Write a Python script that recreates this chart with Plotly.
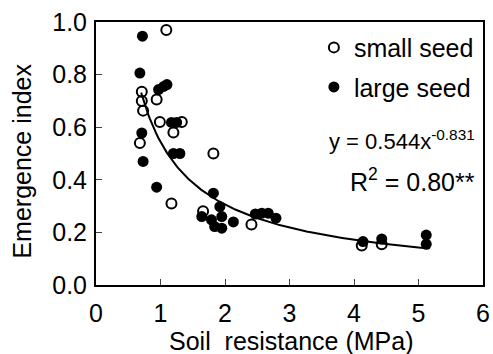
import numpy as np
import plotly.graph_objects as go

# Small seed (open circles)
small_x = [1.09, 0.71, 0.71, 0.94, 0.73, 0.99, 1.33, 1.20, 0.68, 1.17, 1.82, 1.66, 2.41, 4.12, 4.43]
small_y = [0.97, 0.735, 0.70, 0.705, 0.663, 0.62, 0.62, 0.58, 0.54, 0.31, 0.50, 0.28, 0.23, 0.15, 0.155]

# Large seed (filled circles)
large_x = [0.72, 0.68, 0.97, 1.05, 1.10, 1.17, 1.25, 0.71, 1.20, 1.30, 0.73, 0.94,
           1.82, 1.64, 1.79, 1.92, 1.95, 1.95, 2.13, 1.84, 2.47, 2.57, 2.67, 2.79,
           4.14, 4.43, 5.12, 5.12]
large_y = [0.946, 0.806, 0.743, 0.755, 0.762, 0.618, 0.618, 0.578, 0.50, 0.50, 0.47, 0.372,
           0.349, 0.26, 0.248, 0.298, 0.26, 0.216, 0.24, 0.222, 0.27, 0.273, 0.273, 0.254,
           0.165, 0.175, 0.19, 0.155]

# Power fit y = a * x^b
fit_a = 0.544
fit_b = -0.831
fit_range = [0.7, 5.1]

x_ticks = [0, 1, 2, 3, 4, 5, 6]
y_ticks = [0.0, 0.2, 0.4, 0.6, 0.8, 1.0]

x_title = "Soil  resistance (MPa)"
y_title = "Emergence index"

FONT = "Liberation Sans, Arial, sans-serif"
FS = 25

fx = np.linspace(fit_range[0], fit_range[1], 200)
fy = fit_a * fx ** fit_b

fig = go.Figure()
fig.add_trace(go.Scatter(x=fx, y=fy, mode="lines", line=dict(color="black", width=2),
                         showlegend=False, hoverinfo="skip"))
fig.add_trace(go.Scatter(x=small_x, y=small_y, mode="markers", name="small seed",
                         legendgroup="a",
                         marker=dict(symbol="circle-open", size=10, color="black",
                                     line=dict(width=2, color="black"))))
fig.add_trace(go.Scatter(x=large_x, y=large_y, mode="markers", name="large seed",
                         legendgroup="b",
                         marker=dict(symbol="circle", size=11, color="black")))

fig.update_layout(
    width=493, height=354,
    margin=dict(l=96, r=10, t=22, b=69),
    paper_bgcolor="white", plot_bgcolor="white",
    font=dict(family=FONT, size=FS, color="black"),
    showlegend=True,
    legend=dict(x=0.563, y=0.99, xanchor="left", yanchor="top",
                bgcolor="rgba(0,0,0,0)", tracegroupgap=4,
                itemwidth=30, font=dict(family=FONT, size=FS)),
    xaxis=dict(range=[0, 6], tickvals=x_ticks, ticks="inside", ticklen=6,
               ticklabelstandoff=5, automargin=False,
               showline=True, linecolor="black", linewidth=2, mirror=True,
               showgrid=False, zeroline=False),
    yaxis=dict(range=[0, 1.0], tickvals=y_ticks, tickformat=".1f", ticks="inside", ticklen=6,
               ticklabelstandoff=2, automargin=False,
               showline=True, linecolor="black", linewidth=2, mirror=True,
               showgrid=False, zeroline=False),
    annotations=[
        dict(x=0.504, y=-0.212, xref="paper", yref="paper", xanchor="center", yanchor="middle",
             text=x_title, showarrow=False, font=dict(family=FONT, size=FS)),
        dict(x=-0.19, y=0.471, xref="paper", yref="paper", xanchor="center", yanchor="middle",
             text=y_title, textangle=-90, showarrow=False, font=dict(family=FONT, size=FS)),
        dict(x=0.597, y=0.55, xref="paper", yref="paper", xanchor="left", yanchor="middle",
             text="y = 0.544x<sup>-0.831</sup>", showarrow=False, font=dict(family=FONT, size=22)),
        dict(x=0.652, y=0.40, xref="paper", yref="paper", xanchor="left", yanchor="middle",
             text="R<sup>2</sup> = 0.80**", showarrow=False, font=dict(family=FONT, size=FS)),
    ],
)

fig.write_html("out.html")
